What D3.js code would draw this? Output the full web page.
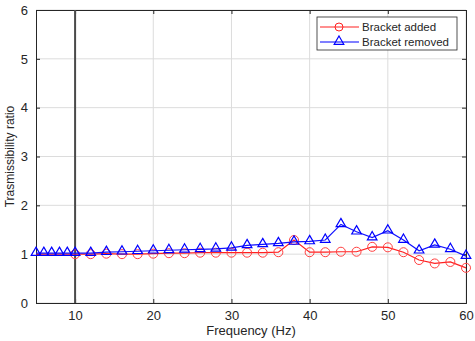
<!DOCTYPE html>
<html>
<head>
<meta charset="utf-8">
<script src="https://cdn.jsdelivr.net/npm/d3@7"></script>
<style>
  body { margin: 0; background: #fff; }
  text { font-family: "Liberation Sans", Arial, sans-serif; fill: #262626; }
</style>
</head>
<body>
<svg id="chart" width="475" height="341"></svg>
<script>
// frequency points (Hz)
const freqs = [5, 6, 7, 8, 9, 10, 12, 14, 16, 18, 20, 22, 24, 26, 28, 30, 32, 34, 36, 38, 40, 42, 44, 46, 48, 50, 52, 54, 56, 58, 60];
const bracketAdded = [1.0, 1.0, 1.0, 1.0, 1.0, 1.0, 1.0, 1.01, 1.0, 1.0, 1.01, 1.02, 1.02, 1.03, 1.03, 1.03, 1.03, 1.03, 1.04, 1.29, 1.04, 1.04, 1.05, 1.05, 1.15, 1.14, 1.04, 0.88, 0.81, 0.84, 0.72];
const bracketRemoved = [1.02, 1.02, 1.02, 1.02, 1.02, 1.02, 1.02, 1.04, 1.05, 1.06, 1.07, 1.08, 1.09, 1.1, 1.11, 1.13, 1.18, 1.2, 1.22, 1.25, 1.26, 1.29, 1.61, 1.46, 1.34, 1.48, 1.29, 1.07, 1.19, 1.1, 0.96];
const xTicks = [10, 20, 30, 40, 50, 60];
const yTicks = [0, 1, 2, 3, 4, 5, 6];
const markerStart = 10; // red markers only from 10 Hz
const refLine = 10;

const svg = d3.select('#chart');
const margin = { left: 36, right: 9, top: 10, bottom: 38 };
const width = 475 - margin.left - margin.right;
const height = 341 - margin.top - margin.bottom;

const x = d3.scaleLinear().domain([5, 60]).range([0, width]);
const y = d3.scaleLinear().domain([0, 6]).range([height, 0]);

const g = svg.append('g').attr('transform', `translate(${margin.left},${margin.top})`);

// grid
g.append('g').selectAll('line').data(xTicks).enter().append('line')
  .attr('x1', d => x(d)).attr('x2', d => x(d))
  .attr('y1', 0).attr('y2', height)
  .attr('stroke', '#dcdcdc').attr('stroke-width', 1);
g.append('g').selectAll('line').data(yTicks).enter().append('line')
  .attr('x1', 0).attr('x2', width)
  .attr('y1', d => y(d)).attr('y2', d => y(d))
  .attr('stroke', '#dcdcdc').attr('stroke-width', 1);

// axes
const fmt = d3.format('d');
const xAxis = d3.axisBottom(x).tickValues(xTicks).tickFormat(fmt).tickSize(-4).tickPadding(8);
const yAxis = d3.axisLeft(y).tickValues(yTicks).tickFormat(fmt).tickSize(-4).tickPadding(8);
const styleAxis = sel => {
  sel.selectAll('path, line').attr('stroke', '#262626');
  sel.selectAll('text').style('font-size', '13px').attr('fill', '#262626');
};
g.append('g').attr('transform', `translate(0,${height})`).call(xAxis).call(styleAxis);
g.append('g').call(yAxis).call(styleAxis);
g.append('g').call(d3.axisTop(x).tickValues(xTicks).tickSize(-4).tickFormat(''))
  .call(styleAxis);
g.append('g').attr('transform', `translate(${width},0)`)
  .call(d3.axisRight(y).tickValues(yTicks).tickSize(-4).tickFormat(''))
  .call(styleAxis);

// reference line at 10 Hz
g.append('line')
  .attr('x1', x(refLine)).attr('x2', x(refLine))
  .attr('y1', 0).attr('y2', height)
  .attr('stroke', '#4a4a4a').attr('stroke-width', 2);

const line = d3.line().x((d, i) => x(freqs[i])).y(d => y(d));

// red series
g.append('path').datum(bracketAdded)
  .attr('d', line).attr('fill', 'none')
  .attr('stroke', '#ff2020').attr('stroke-width', 1.2);
g.append('g').selectAll('circle')
  .data(bracketAdded.map((v, i) => [freqs[i], v]).filter(d => d[0] >= markerStart))
  .enter().append('circle')
  .attr('cx', d => x(d[0])).attr('cy', d => y(d[1])).attr('r', 4.5)
  .attr('fill', 'none').attr('stroke', '#ff4040').attr('stroke-width', 1);

// blue series
const tri = d3.symbol().type(d3.symbolTriangle).size(40);
g.append('path').datum(bracketRemoved)
  .attr('d', line).attr('fill', 'none')
  .attr('stroke', '#1010ff').attr('stroke-width', 1.2);
g.append('g').selectAll('path')
  .data(bracketRemoved.map((v, i) => [freqs[i], v]))
  .enter().append('path')
  .attr('d', tri)
  .attr('transform', d => `translate(${x(d[0])},${y(d[1]) - 0.5})`)
  .attr('fill', 'none').attr('stroke', '#0000ff').attr('stroke-width', 1.2);

// axis labels
svg.append('text')
  .attr('x', margin.left + width / 2).attr('y', 335)
  .attr('text-anchor', 'middle').style('font-size', '13px')
  .text('Frequency (Hz)');
svg.append('text')
  .attr('transform', `translate(14,${margin.top + height / 2}) rotate(-90)`)
  .attr('text-anchor', 'middle').style('font-size', '12px')
  .text('Trasmissibility ratio');

// legend
const lg = svg.append('g').attr('transform', 'translate(317,17)');
lg.append('rect').attr('width', 140).attr('height', 33)
  .attr('fill', '#fff').attr('stroke', '#262626').attr('stroke-width', 0.8);
const items = [
  { name: 'Bracket added', color: '#ff2020', marker: 'circle' },
  { name: 'Bracket removed', color: '#0000ff', marker: 'triangle' }
];
items.forEach((it, i) => {
  const yy = 10 + i * 15;
  lg.append('line').attr('x1', 3).attr('x2', 42).attr('y1', yy).attr('y2', yy)
    .attr('stroke', it.color).attr('stroke-width', 1.2);
  if (it.marker === 'circle') {
    lg.append('circle').attr('cx', 22).attr('cy', yy).attr('r', 4)
      .attr('fill', 'none').attr('stroke', it.color);
  } else {
    lg.append('path').attr('d', tri).attr('transform', `translate(22,${yy - 0.5})`)
      .attr('fill', 'none').attr('stroke', it.color).attr('stroke-width', 1.2);
  }
  lg.append('text').attr('x', 45).attr('y', yy + 4).style('font-size', '11.5px')
    .text(it.name);
});
</script>
</body>
</html>
